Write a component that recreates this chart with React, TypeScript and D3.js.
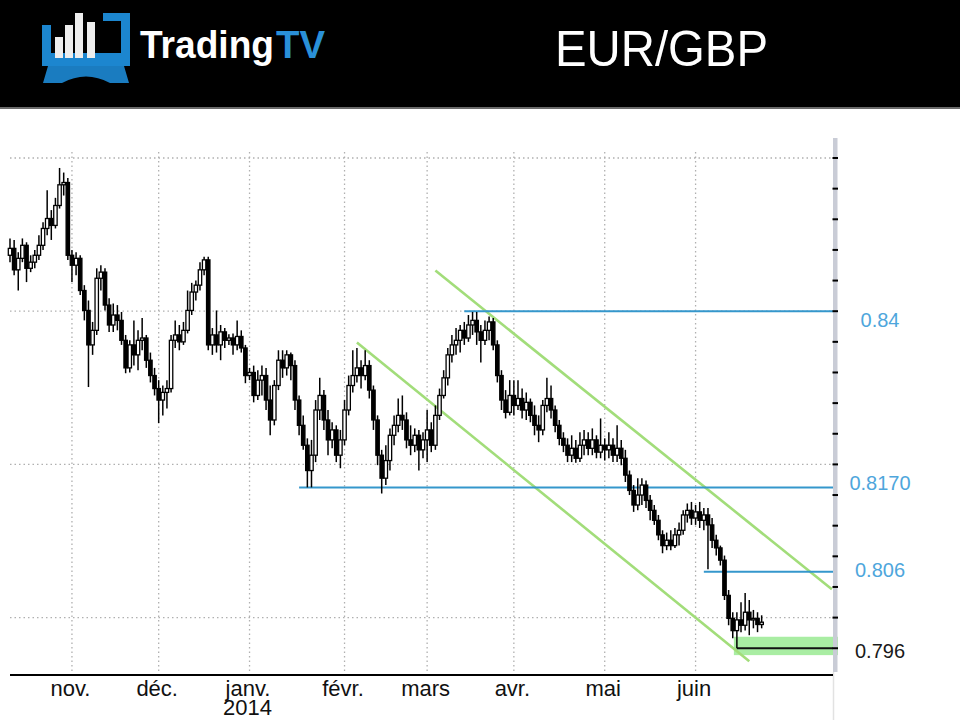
import React, { useEffect, useRef } from "react";
import * as d3 from "d3";

// daily bars, weekdays only
const firstSession = "2013-10-11";
const lastCalendarDay = "2014-07-31";

const opens = [
  0.8473, 0.8482, 0.8454, 0.8469, 0.8486, 0.8456, 0.8464, 0.8473, 0.8486, 0.8508,
  0.8521, 0.8512, 0.8538, 0.8565, 0.8568, 0.8473, 0.846, 0.8469, 0.8427, 0.8401,
  0.8356, 0.8375, 0.8443, 0.8451, 0.8408, 0.8382, 0.8395, 0.8388, 0.8362, 0.8326,
  0.8356, 0.8343, 0.8362, 0.8365, 0.8336, 0.8316, 0.8299, 0.8284, 0.8294, 0.8299,
  0.8362, 0.8369, 0.836, 0.8375, 0.8401, 0.8425, 0.8434, 0.8454, 0.8467, 0.8356,
  0.8369, 0.8356, 0.8373, 0.8362, 0.8365, 0.8356, 0.8367, 0.8352, 0.8316, 0.832,
  0.829, 0.831, 0.8316, 0.8284, 0.8258, 0.8303, 0.8336, 0.8326, 0.8343, 0.8329,
  0.8284, 0.8251, 0.8225, 0.8192, 0.8212, 0.8271, 0.829, 0.8258, 0.8232, 0.8245,
  0.8212, 0.8232, 0.8271, 0.8303, 0.8316, 0.8326, 0.8316, 0.8329, 0.8297, 0.8258,
  0.8212, 0.8182, 0.8205, 0.8238, 0.8251, 0.8264, 0.8258, 0.8232, 0.8225, 0.8238,
  0.8219, 0.8232, 0.8245, 0.8225, 0.8264, 0.829, 0.8313, 0.8343, 0.8356, 0.8362,
  0.8375, 0.8365, 0.8382, 0.8388, 0.8373, 0.8362, 0.8375, 0.8386, 0.8356, 0.8316,
  0.8284, 0.8268, 0.829, 0.8277, 0.8286, 0.8271, 0.8281, 0.8264, 0.8251, 0.8245,
  0.8277, 0.8286, 0.8271, 0.8251, 0.8234, 0.8225, 0.8212, 0.8221, 0.8208, 0.8225,
  0.8232, 0.8221, 0.8232, 0.8216, 0.8225, 0.8219, 0.8225, 0.8212, 0.8221, 0.8208,
  0.8186, 0.8166, 0.8147, 0.816, 0.8173, 0.8153, 0.814, 0.8127, 0.8108, 0.8094,
  0.8101, 0.8094, 0.8108, 0.8114, 0.8134, 0.814, 0.813, 0.8138, 0.8127, 0.8134,
  0.8121, 0.8101, 0.8091, 0.8075, 0.8029, 0.7999, 0.7983, 0.7997, 0.799, 0.8007,
  0.7997, 0.7999, 0.7991,
];
const highs = [
  0.8495, 0.8493, 0.8477, 0.8495, 0.849, 0.8473, 0.848, 0.8499, 0.8516, 0.8558,
  0.8532, 0.8548, 0.8587, 0.8581, 0.8574, 0.848, 0.8477, 0.8473, 0.8434, 0.8414,
  0.8386, 0.8456, 0.846, 0.8456, 0.8417, 0.841, 0.8408, 0.8399, 0.8369, 0.8362,
  0.8388, 0.8375, 0.8391, 0.8369, 0.8346, 0.8326, 0.831, 0.8303, 0.831, 0.8369,
  0.8388, 0.8382, 0.8386, 0.8427, 0.8437, 0.844, 0.8464, 0.8471, 0.8471, 0.8378,
  0.8401, 0.8382, 0.8378, 0.837, 0.8371, 0.8388, 0.8375, 0.8356, 0.8326, 0.8329,
  0.8323, 0.8329, 0.8326, 0.8303, 0.831, 0.8349, 0.8349, 0.8349, 0.8346, 0.8336,
  0.829, 0.8264, 0.8234, 0.8232, 0.8284, 0.8313, 0.8297, 0.8271, 0.8255, 0.8251,
  0.8245, 0.8284, 0.8316, 0.8349, 0.8352, 0.8336, 0.8349, 0.8336, 0.8303, 0.8264,
  0.8219, 0.8225, 0.8247, 0.8264, 0.8286, 0.829, 0.8268, 0.8251, 0.8247, 0.8245,
  0.8242, 0.8271, 0.8255, 0.8277, 0.8299, 0.8323, 0.8352, 0.8369, 0.8378, 0.8382,
  0.8386, 0.8395, 0.8399, 0.8399, 0.8382, 0.8388, 0.8393, 0.8391, 0.8362, 0.8323,
  0.8297, 0.831, 0.831, 0.831, 0.8299, 0.8294, 0.8286, 0.8277, 0.8264, 0.8284,
  0.8313, 0.8303, 0.8277, 0.8258, 0.8242, 0.8234, 0.8238, 0.8232, 0.8242, 0.8245,
  0.8242, 0.8247, 0.8238, 0.826, 0.8234, 0.8242, 0.8234, 0.8251, 0.8232, 0.8219,
  0.8192, 0.8173, 0.8182, 0.8182, 0.8179, 0.816, 0.8147, 0.8134, 0.8114, 0.8111,
  0.8114, 0.8117, 0.8124, 0.814, 0.8149, 0.8151, 0.8147, 0.8151, 0.8143, 0.8143,
  0.813, 0.8108, 0.8094, 0.8081, 0.8036, 0.8007, 0.8007, 0.802, 0.8032, 0.8023,
  0.801, 0.8007, 0.8003,
];
const lows = [
  0.8464, 0.8447, 0.8427, 0.8464, 0.8438, 0.8451, 0.8456, 0.8467, 0.848, 0.8499,
  0.8493, 0.8508, 0.8534, 0.8551, 0.8467, 0.8438, 0.8447, 0.8421, 0.8388, 0.8301,
  0.8343, 0.8369, 0.8427, 0.8401, 0.8373, 0.8373, 0.8375, 0.8356, 0.8319, 0.832,
  0.8329, 0.8323, 0.8349, 0.8326, 0.8307, 0.829, 0.8254, 0.8264, 0.8273, 0.8294,
  0.8352, 0.8349, 0.8356, 0.8371, 0.8395, 0.8414, 0.8427, 0.8447, 0.8349, 0.8343,
  0.8346, 0.8336, 0.8352, 0.8356, 0.8343, 0.8349, 0.8346, 0.8306, 0.831, 0.8281,
  0.8284, 0.829, 0.8271, 0.8238, 0.8251, 0.8297, 0.8313, 0.8316, 0.831, 0.8271,
  0.8238, 0.8219, 0.817, 0.817, 0.8203, 0.8258, 0.8245, 0.8212, 0.8221, 0.8203,
  0.8195, 0.8225, 0.8264, 0.8294, 0.8307, 0.8299, 0.831, 0.8286, 0.8245, 0.8199,
  0.8162, 0.8173, 0.8192, 0.8225, 0.8242, 0.8245, 0.8221, 0.8212, 0.8216, 0.8192,
  0.8208, 0.8203, 0.8216, 0.8219, 0.8258, 0.8286, 0.8303, 0.8333, 0.8343, 0.8346,
  0.8356, 0.836, 0.8369, 0.8356, 0.8333, 0.8356, 0.8362, 0.8349, 0.8307, 0.8271,
  0.826, 0.8264, 0.8264, 0.8271, 0.826, 0.8258, 0.8255, 0.8238, 0.8229, 0.8238,
  0.8268, 0.826, 0.8242, 0.8225, 0.8216, 0.8203, 0.8203, 0.8202, 0.8203, 0.8212,
  0.8212, 0.8212, 0.8208, 0.8208, 0.8205, 0.8208, 0.8203, 0.8203, 0.8199, 0.8177,
  0.816, 0.8138, 0.814, 0.8147, 0.8143, 0.8127, 0.8121, 0.8101, 0.8084, 0.8088,
  0.8088, 0.8091, 0.8094, 0.8108, 0.8124, 0.8121, 0.8121, 0.8117, 0.8114, 0.8063,
  0.8091, 0.8081, 0.8068, 0.8023, 0.799, 0.7973, 0.796, 0.7981, 0.7983, 0.7977,
  0.7986, 0.7981, 0.7986,
];
const closes = [
  0.8482, 0.8454, 0.8469, 0.8486, 0.8456, 0.8464, 0.8473, 0.8486, 0.8508, 0.8521,
  0.8512, 0.8538, 0.8565, 0.8568, 0.8473, 0.846, 0.8469, 0.8427, 0.8401, 0.8356,
  0.8375, 0.8443, 0.8451, 0.8408, 0.8382, 0.8395, 0.8388, 0.8362, 0.8326, 0.8356,
  0.8343, 0.8362, 0.8365, 0.8336, 0.8316, 0.8299, 0.8284, 0.8294, 0.8299, 0.8362,
  0.8369, 0.836, 0.8375, 0.8401, 0.8425, 0.8434, 0.8454, 0.8467, 0.8356, 0.8369,
  0.8356, 0.8373, 0.8362, 0.8365, 0.8356, 0.8367, 0.8352, 0.8316, 0.832, 0.829,
  0.831, 0.8316, 0.8284, 0.8258, 0.8303, 0.8336, 0.8326, 0.8343, 0.8329, 0.8284,
  0.8251, 0.8225, 0.8192, 0.8212, 0.8271, 0.829, 0.8258, 0.8232, 0.8245, 0.8212,
  0.8232, 0.8271, 0.8303, 0.8316, 0.8326, 0.8316, 0.8329, 0.8297, 0.8258, 0.8212,
  0.8182, 0.8205, 0.8238, 0.8251, 0.8264, 0.8258, 0.8232, 0.8225, 0.8238, 0.8219,
  0.8232, 0.8245, 0.8225, 0.8264, 0.829, 0.8313, 0.8343, 0.8356, 0.8362, 0.8375,
  0.8365, 0.8382, 0.8388, 0.8373, 0.8362, 0.8375, 0.8386, 0.8356, 0.8316, 0.8284,
  0.8268, 0.829, 0.8277, 0.8286, 0.8271, 0.8281, 0.8264, 0.8251, 0.8245, 0.8277,
  0.8286, 0.8271, 0.8251, 0.8234, 0.8225, 0.8212, 0.8221, 0.8208, 0.8225, 0.8232,
  0.8221, 0.8232, 0.8216, 0.8225, 0.8219, 0.8225, 0.8212, 0.8221, 0.8208, 0.8186,
  0.8166, 0.8147, 0.816, 0.8173, 0.8153, 0.814, 0.8127, 0.8108, 0.8094, 0.8101,
  0.8094, 0.8108, 0.8114, 0.8134, 0.814, 0.813, 0.8138, 0.8127, 0.8134, 0.8121,
  0.8101, 0.8091, 0.8075, 0.8029, 0.7999, 0.7983, 0.7997, 0.799, 0.8007, 0.7997,
  0.7999, 0.7991, 0.7994,
];

const monthTickDates = [
  "2013-11-01", "2013-12-02", "2014-01-01", "2014-02-03",
  "2014-03-03", "2014-04-01", "2014-05-01", "2014-06-02",
];
const monthLabels = ["nov.", "déc.", "janv.", "févr.", "mars", "avr.", "mai", "juin"];
const yearLabel = "2014";
const yearLabelDate = "2014-01-01";

const gridPrices = [0.8, 0.82, 0.84, 0.86];
const axisTickFirst = 0.796;
const axisTickCount = 17; // every 0.004 up to 0.86

// drawn levels (support / resistance)
const levelPrices = [0.84, 0.817, 0.806, 0.796];
const levelLabels = ["0.84", "0.8170", "0.806", "0.796"];
const levelStarts = ["2014-03-14", "2014-01-17", "2014-06-04", "2014-06-16"];

const supportBand = [0.7951, 0.7975];
const supportBandStart = "2014-06-16";

// descending channel
const channelUpper: [string, number][] = [["2014-03-05", 0.8453], ["2014-07-17", 0.8037]];
const channelLower: [string, number][] = [["2014-02-06", 0.8359], ["2014-06-19", 0.7943]];

const FONT = "'Liberation Sans', Arial, sans-serif";

export default function App() {
  const svgRef = useRef<SVGSVGElement>(null);

  useEffect(() => {
    const width = 960;
    const height = 720;
    const plotLeft = 10;
    const plotRight = 833;
    const plotTop = 138;
    const plotBottom = 675;
    const barStep = 4.13;

    const svg = d3.select(svgRef.current).attr("width", width).attr("height", height);
    svg.selectAll("*").remove();

    const fmt = d3.utcFormat("%Y-%m-%d");
    const calendar = d3.utcDay
      .range(new Date(firstSession + "T00:00:00Z"), new Date(lastCalendarDay + "T12:00:00Z"))
      .filter((d) => d.getUTCDay() > 0 && d.getUTCDay() < 6);
    const dayIndex = new Map(calendar.map((d, i) => [fmt(d), i] as [string, number]));
    const idx = (s: string) => dayIndex.get(s) ?? 0;

    const x = d3
      .scaleLinear()
      .domain([0, closes.length - 1])
      .range([plotLeft, plotLeft + (closes.length - 1) * barStep]);
    const y = d3.scaleLinear().domain([0.79, 0.86]).range([694.2, 158]);

    svg.append("rect").attr("width", width).attr("height", height).attr("fill", "#fff");

    // ---- header band
    const head = svg.append("g");
    head.append("rect").attr("width", width).attr("height", 107).attr("fill", "#000");
    head.append("rect").attr("y", 107).attr("width", width).attr("height", 2).attr("fill", "#6b6b6b");

    const logoBlue = "#1c86cf";
    head.append("rect").attr("x", 42).attr("y", 25).attr("width", 9).attr("height", 40).attr("fill", logoBlue);
    head.append("rect").attr("x", 42).attr("y", 53).attr("width", 88).attr("height", 13).attr("fill", logoBlue);
    head.append("rect").attr("x", 121).attr("y", 13).attr("width", 9).attr("height", 53).attr("fill", logoBlue);
    head.append("rect").attr("x", 103).attr("y", 13).attr("width", 27).attr("height", 8).attr("fill", logoBlue);
    head
      .append("path")
      .attr("d", "M48,66 L124,66 L129,83 L110,83 Q86,70 62,83 L43,83 Z")
      .attr("fill", "#1a7cc0");
    const logoBars = [
      [55, 37],
      [65, 25],
      [75, 13],
      [87, 22],
    ];
    head
      .selectAll("rect.lb")
      .data(logoBars)
      .join("rect")
      .attr("class", "lb")
      .attr("x", (d) => d[0])
      .attr("y", (d) => d[1])
      .attr("width", 8)
      .attr("height", (d) => 58 - d[1])
      .attr("fill", "#eeeeee");

    head
      .append("text")
      .attr("x", 140)
      .attr("y", 58)
      .attr("font-family", FONT)
      .attr("font-weight", "bold")
      .attr("font-size", 38)
      .attr("textLength", 134)
      .attr("lengthAdjust", "spacingAndGlyphs")
      .attr("fill", "#ffffff")
      .text("Trading");
    head
      .append("text")
      .attr("x", 276)
      .attr("y", 58)
      .attr("font-family", FONT)
      .attr("font-weight", "bold")
      .attr("font-size", 38)
      .attr("textLength", 49)
      .attr("lengthAdjust", "spacingAndGlyphs")
      .attr("fill", "#2a90d8")
      .text("TV");
    head
      .append("text")
      .attr("x", 555)
      .attr("y", 66)
      .attr("font-family", FONT)
      .attr("font-size", 50)
      .attr("textLength", 213)
      .attr("lengthAdjust", "spacingAndGlyphs")
      .attr("fill", "#ffffff")
      .text("EUR/GBP");

    // ---- grid
    const grid = svg.append("g").attr("stroke", "#b0b0b0").attr("stroke-width", 1.3).attr("stroke-dasharray", "1.5,3");
    grid
      .selectAll("line.h")
      .data(gridPrices)
      .join("line")
      .attr("class", "h")
      .attr("x1", plotLeft)
      .attr("x2", plotRight)
      .attr("y1", (d) => y(d))
      .attr("y2", (d) => y(d));
    grid
      .selectAll("line.v")
      .data(monthTickDates)
      .join("line")
      .attr("class", "v")
      .attr("x1", (d) => x(idx(d)))
      .attr("x2", (d) => x(idx(d)))
      .attr("y1", 152)
      .attr("y2", plotBottom - 2);

    // ---- support band
    svg
      .append("rect")
      .attr("x", x(idx(supportBandStart)) - 3)
      .attr("width", plotRight + 5 - x(idx(supportBandStart)) + 3)
      .attr("y", y(supportBand[1]))
      .attr("height", y(supportBand[0]) - y(supportBand[1]))
      .attr("fill", "#a9eda3");

    // ---- channel lines
    const chLine = d3
      .line<[string, number]>()
      .x((d) => x(idx(d[0])))
      .y((d) => y(d[1]));
    svg
      .selectAll("path.ch")
      .data([channelUpper, channelLower])
      .join("path")
      .attr("class", "ch")
      .attr("d", (d) => chLine(d))
      .attr("fill", "none")
      .attr("stroke", "#a2dd7a")
      .attr("stroke-width", 2.6);

    // ---- levels
    svg
      .selectAll("line.lvl")
      .data(levelPrices)
      .join("line")
      .attr("class", "lvl")
      .attr("x1", (d, i) => x(idx(levelStarts[i])))
      .attr("x2", plotRight)
      .attr("y1", (d) => y(d))
      .attr("y2", (d) => y(d))
      .attr("stroke", (d, i) => (i === levelPrices.length - 1 ? "#111" : "#3597cc"))
      .attr("stroke-width", 2);

    // ---- candles
    const bars = closes.map((c, i) => ({ i, o: opens[i], h: highs[i], l: lows[i], c }));
    const cg = svg.append("g");
    cg.selectAll("line")
      .data(bars)
      .join("line")
      .attr("x1", (d) => x(d.i))
      .attr("x2", (d) => x(d.i))
      .attr("y1", (d) => y(d.h))
      .attr("y2", (d) => y(d.l))
      .attr("stroke", "#000")
      .attr("stroke-width", 1.5);
    cg.selectAll("rect")
      .data(bars)
      .join("rect")
      .attr("x", (d) => x(d.i) - 1.7)
      .attr("width", 3.4)
      .attr("y", (d) => y(Math.max(d.o, d.c)))
      .attr("height", (d) => Math.max(1.5, Math.abs(y(d.o) - y(d.c))))
      .attr("fill", (d) => (d.c >= d.o ? "#fff" : "#000"))
      .attr("stroke", "#000")
      .attr("stroke-width", 1.3);

    // ---- right axis
    svg
      .append("rect")
      .attr("x", plotRight)
      .attr("y", plotTop)
      .attr("width", 4.5)
      .attr("height", plotBottom - 3 - plotTop)
      .attr("fill", "#c9ccd6");
    svg
      .append("line")
      .attr("x1", plotRight + 0.5)
      .attr("x2", plotRight + 0.5)
      .attr("y1", plotBottom - 3)
      .attr("y2", height)
      .attr("stroke", "#e2e2e2")
      .attr("stroke-width", 1.5);
    const ticks = d3.range(axisTickCount).map((k) => axisTickFirst + k * 0.004);
    svg
      .selectAll("line.tk")
      .data(ticks)
      .join("line")
      .attr("class", "tk")
      .attr("x1", plotRight - 0.5)
      .attr("x2", plotRight + 5)
      .attr("y1", (d) => y(d))
      .attr("y2", (d) => y(d))
      .attr("stroke", "#000")
      .attr("stroke-width", 2);

    const labelOffsets = [16, 3, 5, 10];
    svg
      .selectAll("text.lv")
      .data(levelLabels)
      .join("text")
      .attr("class", "lv")
      .attr("x", 880)
      .attr("y", (d, i) => y(levelPrices[i]) + labelOffsets[i])
      .attr("text-anchor", "middle")
      .attr("font-family", FONT)
      .attr("font-size", 20)
      .attr("fill", (d, i) => (i === levelLabels.length - 1 ? "#1a1a1a" : "#4ea6dc"))
      .text((d) => d);

    // ---- bottom axis
    svg
      .append("line")
      .attr("x1", plotLeft)
      .attr("x2", plotRight)
      .attr("y1", plotBottom)
      .attr("y2", plotBottom)
      .attr("stroke", "#000")
      .attr("stroke-width", 2);
    svg
      .selectAll("text.mo")
      .data(monthLabels)
      .join("text")
      .attr("class", "mo")
      .attr("x", (d, i) => x(idx(monthTickDates[i])) - 1.5)
      .attr("y", 696)
      .attr("text-anchor", "middle")
      .attr("font-family", FONT)
      .attr("font-size", 22)
      .attr("fill", "#111")
      .text((d) => d);
    svg
      .append("text")
      .attr("x", x(idx(yearLabelDate)) - 2)
      .attr("y", 715)
      .attr("text-anchor", "middle")
      .attr("font-family", FONT)
      .attr("font-size", 22)
      .attr("fill", "#111")
      .text(yearLabel);
  }, []);

  return <svg ref={svgRef} style={{ position: "absolute", left: 0, top: 0 }}></svg>;
}
